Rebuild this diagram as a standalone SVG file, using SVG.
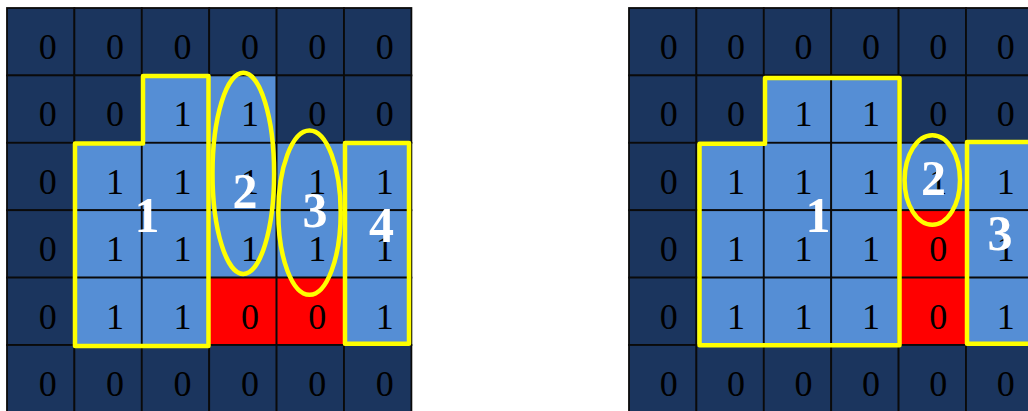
<svg xmlns="http://www.w3.org/2000/svg" width="1028" height="411" viewBox="0 0 1028 411">
<style>
.d{fill:#1b355e;stroke:#0a0a0a;stroke-width:1.8}
.l{fill:#558ed5;stroke:#0a0a0a;stroke-width:1.8}
.r{fill:#ff0000;stroke:#0a0a0a;stroke-width:1.8}
.n{font-family:"Liberation Serif","Times New Roman",serif;font-size:36px;fill:#000;text-anchor:middle}
.y{fill:none;stroke:#ffff00;stroke-width:4.5;stroke-linejoin:round}
.lb{font-family:"Liberation Serif","Times New Roman",serif;font-size:50px;font-weight:bold;fill:#fff;text-anchor:middle}
</style>
<rect width="1028" height="411" fill="#fff"/>
<g id="grid-left">
<rect class="d" x="7" y="8" width="67.4" height="67.4"/><rect class="d" x="74.4" y="8" width="67.4" height="67.4"/><rect class="d" x="141.8" y="8" width="67.4" height="67.4"/><rect class="d" x="209.2" y="8" width="67.4" height="67.4"/><rect class="d" x="276.6" y="8" width="67.4" height="67.4"/><rect class="d" x="344" y="8" width="67.4" height="67.4"/>
<rect class="d" x="7" y="75.4" width="67.4" height="67.4"/><rect class="d" x="74.4" y="75.4" width="67.4" height="67.4"/><rect class="l" x="141.8" y="75.4" width="67.4" height="67.4"/><rect class="l" x="209.2" y="75.4" width="67.4" height="67.4"/><rect class="d" x="276.6" y="75.4" width="67.4" height="67.4"/><rect class="d" x="344" y="75.4" width="67.4" height="67.4"/>
<rect class="d" x="7" y="142.8" width="67.4" height="67.4"/><rect class="l" x="74.4" y="142.8" width="67.4" height="67.4"/><rect class="l" x="141.8" y="142.8" width="67.4" height="67.4"/><rect class="l" x="209.2" y="142.8" width="67.4" height="67.4"/><rect class="l" x="276.6" y="142.8" width="67.4" height="67.4"/><rect class="l" x="344" y="142.8" width="67.4" height="67.4"/>
<rect class="d" x="7" y="210.2" width="67.4" height="67.4"/><rect class="l" x="74.4" y="210.2" width="67.4" height="67.4"/><rect class="l" x="141.8" y="210.2" width="67.4" height="67.4"/><rect class="l" x="209.2" y="210.2" width="67.4" height="67.4"/><rect class="l" x="276.6" y="210.2" width="67.4" height="67.4"/><rect class="l" x="344" y="210.2" width="67.4" height="67.4"/>
<rect class="d" x="7" y="277.6" width="67.4" height="67.4"/><rect class="l" x="74.4" y="277.6" width="67.4" height="67.4"/><rect class="l" x="141.8" y="277.6" width="67.4" height="67.4"/><rect class="r" x="209.2" y="277.6" width="67.4" height="67.4"/><rect class="r" x="276.6" y="277.6" width="67.4" height="67.4"/><rect class="l" x="344" y="277.6" width="67.4" height="67.4"/>
<rect class="d" x="7" y="345" width="67.4" height="67.4"/><rect class="d" x="74.4" y="345" width="67.4" height="67.4"/><rect class="d" x="141.8" y="345" width="67.4" height="67.4"/><rect class="d" x="209.2" y="345" width="67.4" height="67.4"/><rect class="d" x="276.6" y="345" width="67.4" height="67.4"/><rect class="d" x="344" y="345" width="67.4" height="67.4"/>
<text class="n" y="59"><tspan x="47.7">0</tspan><tspan x="115.1">0</tspan><tspan x="182.5">0</tspan><tspan x="249.9">0</tspan><tspan x="317.3">0</tspan><tspan x="384.7">0</tspan></text>
<text class="n" y="126.4"><tspan x="47.7">0</tspan><tspan x="115.1">0</tspan><tspan x="182.5">1</tspan><tspan x="249.9">1</tspan><tspan x="317.3">0</tspan><tspan x="384.7">0</tspan></text>
<text class="n" y="193.8"><tspan x="47.7">0</tspan><tspan x="115.1">1</tspan><tspan x="182.5">1</tspan><tspan x="249.9">1</tspan><tspan x="317.3">1</tspan><tspan x="384.7">1</tspan></text>
<text class="n" y="261.2"><tspan x="47.7">0</tspan><tspan x="115.1">1</tspan><tspan x="182.5">1</tspan><tspan x="249.9">1</tspan><tspan x="317.3">1</tspan><tspan x="384.7">1</tspan></text>
<text class="n" y="328.6"><tspan x="47.7">0</tspan><tspan x="115.1">1</tspan><tspan x="182.5">1</tspan><tspan x="249.9">0</tspan><tspan x="317.3">0</tspan><tspan x="384.7">1</tspan></text>
<text class="n" y="396"><tspan x="47.7">0</tspan><tspan x="115.1">0</tspan><tspan x="182.5">0</tspan><tspan x="249.9">0</tspan><tspan x="317.3">0</tspan><tspan x="384.7">0</tspan></text>
</g>
<g id="grid-right">
<rect class="d" x="629" y="8" width="67.4" height="67.4"/><rect class="d" x="696.4" y="8" width="67.4" height="67.4"/><rect class="d" x="763.8" y="8" width="67.4" height="67.4"/><rect class="d" x="831.2" y="8" width="67.4" height="67.4"/><rect class="d" x="898.6" y="8" width="67.4" height="67.4"/><rect class="d" x="966" y="8" width="67.4" height="67.4"/>
<rect class="d" x="629" y="75.4" width="67.4" height="67.4"/><rect class="d" x="696.4" y="75.4" width="67.4" height="67.4"/><rect class="l" x="763.8" y="75.4" width="67.4" height="67.4"/><rect class="l" x="831.2" y="75.4" width="67.4" height="67.4"/><rect class="d" x="898.6" y="75.4" width="67.4" height="67.4"/><rect class="d" x="966" y="75.4" width="67.4" height="67.4"/>
<rect class="d" x="629" y="142.8" width="67.4" height="67.4"/><rect class="l" x="696.4" y="142.8" width="67.4" height="67.4"/><rect class="l" x="763.8" y="142.8" width="67.4" height="67.4"/><rect class="l" x="831.2" y="142.8" width="67.4" height="67.4"/><rect class="l" x="898.6" y="142.8" width="67.4" height="67.4"/><rect class="l" x="966" y="142.8" width="67.4" height="67.4"/>
<rect class="d" x="629" y="210.2" width="67.4" height="67.4"/><rect class="l" x="696.4" y="210.2" width="67.4" height="67.4"/><rect class="l" x="763.8" y="210.2" width="67.4" height="67.4"/><rect class="l" x="831.2" y="210.2" width="67.4" height="67.4"/><rect class="r" x="898.6" y="210.2" width="67.4" height="67.4"/><rect class="l" x="966" y="210.2" width="67.4" height="67.4"/>
<rect class="d" x="629" y="277.6" width="67.4" height="67.4"/><rect class="l" x="696.4" y="277.6" width="67.4" height="67.4"/><rect class="l" x="763.8" y="277.6" width="67.4" height="67.4"/><rect class="l" x="831.2" y="277.6" width="67.4" height="67.4"/><rect class="r" x="898.6" y="277.6" width="67.4" height="67.4"/><rect class="l" x="966" y="277.6" width="67.4" height="67.4"/>
<rect class="d" x="629" y="345" width="67.4" height="67.4"/><rect class="d" x="696.4" y="345" width="67.4" height="67.4"/><rect class="d" x="763.8" y="345" width="67.4" height="67.4"/><rect class="d" x="831.2" y="345" width="67.4" height="67.4"/><rect class="d" x="898.6" y="345" width="67.4" height="67.4"/><rect class="d" x="966" y="345" width="67.4" height="67.4"/>
<text class="n" y="59"><tspan x="668.7">0</tspan><tspan x="736.1">0</tspan><tspan x="803.5">0</tspan><tspan x="870.9">0</tspan><tspan x="938.3">0</tspan><tspan x="1005.7">0</tspan></text>
<text class="n" y="126.4"><tspan x="668.7">0</tspan><tspan x="736.1">0</tspan><tspan x="803.5">1</tspan><tspan x="870.9">1</tspan><tspan x="938.3">0</tspan><tspan x="1005.7">0</tspan></text>
<text class="n" y="193.8"><tspan x="668.7">0</tspan><tspan x="736.1">1</tspan><tspan x="803.5">1</tspan><tspan x="870.9">1</tspan><tspan x="938.3">1</tspan><tspan x="1005.7">1</tspan></text>
<text class="n" y="261.2"><tspan x="668.7">0</tspan><tspan x="736.1">1</tspan><tspan x="803.5">1</tspan><tspan x="870.9">1</tspan><tspan x="938.3">0</tspan><tspan x="1005.7">1</tspan></text>
<text class="n" y="328.6"><tspan x="668.7">0</tspan><tspan x="736.1">1</tspan><tspan x="803.5">1</tspan><tspan x="870.9">1</tspan><tspan x="938.3">0</tspan><tspan x="1005.7">1</tspan></text>
<text class="n" y="396"><tspan x="668.7">0</tspan><tspan x="736.1">0</tspan><tspan x="803.5">0</tspan><tspan x="870.9">0</tspan><tspan x="938.3">0</tspan><tspan x="1005.7">0</tspan></text>
</g>
<g id="left-region-1"><path class="y" d="M143,76 H208.5 V346 H75 V143.5 H143 Z"/><text class="lb" x="147" y="232">1</text></g>
<g id="left-region-2"><ellipse class="y" cx="243.3" cy="173.4" rx="30.8" ry="100.6"/><text class="lb" x="245" y="208">2</text></g>
<g id="left-region-3"><ellipse class="y" cx="309.5" cy="212.6" rx="31.2" ry="82.2"/><text class="lb" x="315" y="227">3</text></g>
<g id="left-region-4"><rect class="y" x="345" y="143" width="64" height="200.7"/><text class="lb" x="381.5" y="242">4</text></g>
<g id="right-region-1"><path class="y" d="M765,78 H899.5 V345.3 H699.5 V143.7 H765 Z"/><text class="lb" x="818" y="232">1</text></g>
<g id="right-region-2"><ellipse class="y" cx="932.3" cy="180" rx="27.7" ry="44.7"/><text class="lb" x="933.5" y="195">2</text></g>
<g id="right-region-3"><rect class="y" x="967" y="142" width="80" height="201.7"/><text class="lb" x="1000" y="250">3</text></g>
</svg>
